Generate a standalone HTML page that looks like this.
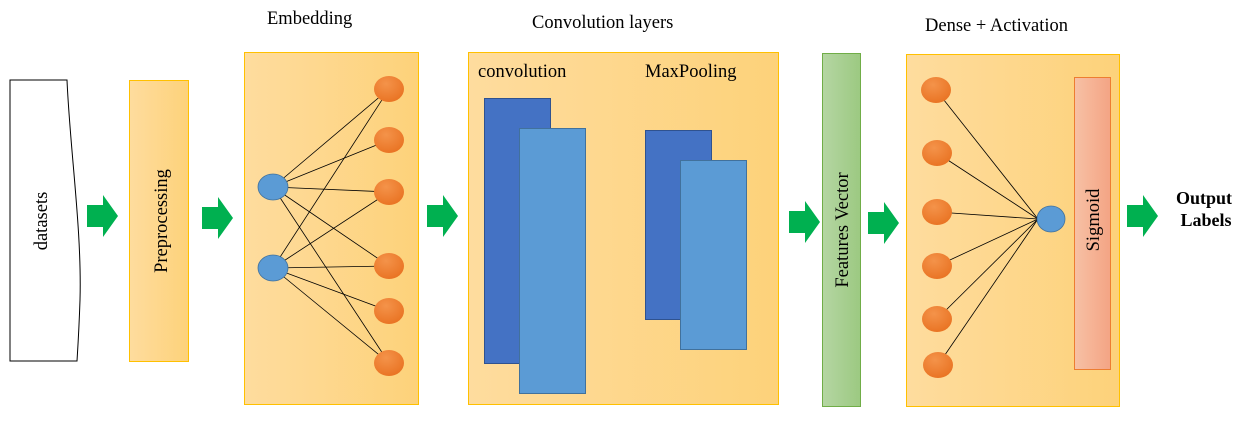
<!DOCTYPE html>
<html><head><meta charset="utf-8"><style>
html,body{margin:0;padding:0;background:#fff;width:1256px;height:424px;overflow:hidden}
text{font-family:"Liberation Serif",serif;fill:#000}
</style></head><body>
<svg width="1256" height="424" viewBox="0 0 1256 424" xmlns="http://www.w3.org/2000/svg">
<defs>
<linearGradient id="yg" x1="0" x2="1" y1="0" y2="0"><stop offset="0" stop-color="#fedc9e"/><stop offset="1" stop-color="#fdd27a"/></linearGradient>
<linearGradient id="gg" x1="0" x2="1"><stop offset="0" stop-color="#b5d6a3"/><stop offset="1" stop-color="#9cc981"/></linearGradient>
<linearGradient id="sg" x1="0" x2="1"><stop offset="0" stop-color="#f7c1a5"/><stop offset="1" stop-color="#f4a484"/></linearGradient>
<radialGradient id="og" cx="0.4" cy="0.3" r="0.8"><stop offset="0" stop-color="#f4934a"/><stop offset="1" stop-color="#e8701f"/></radialGradient>
<g id="arr"><polygon points="0,-11 16,-11 16,-21 31,0 16,21 16,11 0,11" fill="#00b050"/></g>
</defs>
<path d="M10,80 L67,80 C70,150 82,230 80,300 C79,330 78,345 77,361 L10,361 Z" fill="#fff" stroke="#000" stroke-width="1"/>
<text transform="translate(47,221) rotate(-90)" text-anchor="middle" font-size="18.5">datasets</text>
<use href="#arr" x="87" y="216"/>
<rect x="129.5" y="80.5" width="59" height="281" fill="url(#yg)" stroke="#ffc000"/>
<text transform="translate(167,221) rotate(-90)" text-anchor="middle" font-size="18.5">Preprocessing</text>
<use href="#arr" x="202" y="218"/>
<text x="267" y="24" font-size="18.5">Embedding</text>
<rect x="244.5" y="52.5" width="174" height="352" fill="url(#yg)" stroke="#ffc000"/>
<g stroke="#000" stroke-width="0.8">
<line x1="273" y1="187" x2="389" y2="89"/><line x1="273" y1="187" x2="389" y2="140"/><line x1="273" y1="187" x2="389" y2="192"/><line x1="273" y1="187" x2="389" y2="266"/><line x1="273" y1="187" x2="389" y2="363"/>
<line x1="273" y1="268" x2="389" y2="89"/><line x1="273" y1="268" x2="389" y2="192"/><line x1="273" y1="268" x2="389" y2="266"/><line x1="273" y1="268" x2="389" y2="311"/><line x1="273" y1="268" x2="389" y2="363"/>
</g>
<g fill="#5b9bd5" stroke="#41719c" stroke-width="0.8"><ellipse cx="273" cy="187" rx="15" ry="13"/><ellipse cx="273" cy="268" rx="15" ry="13"/></g>
<g fill="url(#og)"><ellipse cx="389" cy="89" rx="15" ry="13"/><ellipse cx="389" cy="140" rx="15" ry="13"/><ellipse cx="389" cy="192" rx="15" ry="13"/><ellipse cx="389" cy="266" rx="15" ry="13"/><ellipse cx="389" cy="311" rx="15" ry="13"/><ellipse cx="389" cy="363" rx="15" ry="13"/></g>
<use href="#arr" x="427" y="216"/>
<text x="532" y="28" font-size="18.5">Convolution layers</text>
<rect x="468.5" y="52.5" width="310" height="352" fill="url(#yg)" stroke="#ffc000"/>
<text x="478" y="77" font-size="18.5">convolution</text>
<text x="645" y="77" font-size="18.5">MaxPooling</text>
<rect x="484.5" y="98.5" width="66" height="265" fill="#4472c4" stroke="#2f528f"/>
<rect x="519.5" y="128.5" width="66" height="265" fill="#5b9bd5" stroke="#41719c"/>
<rect x="645.5" y="130.5" width="66" height="189" fill="#4472c4" stroke="#2f528f"/>
<rect x="680.5" y="160.5" width="66" height="189" fill="#5b9bd5" stroke="#41719c"/>
<use href="#arr" x="789" y="222"/>
<rect x="822.5" y="53.5" width="38" height="353" fill="url(#gg)" stroke="#70ad47"/>
<text transform="translate(848,230) rotate(-90)" text-anchor="middle" font-size="18.5">Features Vector</text>
<use href="#arr" x="868" y="223"/>
<text x="925" y="31" font-size="18.5">Dense + Activation</text>
<rect x="906.5" y="54.5" width="213" height="352" fill="url(#yg)" stroke="#ffc000"/>
<rect x="1074.5" y="77.5" width="36" height="292" fill="url(#sg)" stroke="#ed7d31"/>
<text transform="translate(1099,220) rotate(-90)" text-anchor="middle" font-size="18.5">Sigmoid</text>
<g stroke="#000" stroke-width="0.8">
<line x1="936" y1="90" x2="1038" y2="219"/><line x1="937" y1="153" x2="1038" y2="219"/><line x1="937" y1="212" x2="1038" y2="219"/><line x1="937" y1="266" x2="1038" y2="219"/><line x1="937" y1="319" x2="1038" y2="219"/><line x1="938" y1="365" x2="1038" y2="219"/>
</g>
<g fill="url(#og)"><ellipse cx="936" cy="90" rx="15" ry="13"/><ellipse cx="937" cy="153" rx="15" ry="13"/><ellipse cx="937" cy="212" rx="15" ry="13"/><ellipse cx="937" cy="266" rx="15" ry="13"/><ellipse cx="937" cy="319" rx="15" ry="13"/><ellipse cx="938" cy="365" rx="15" ry="13"/></g>
<ellipse cx="1051" cy="219" rx="14" ry="13" fill="#5b9bd5" stroke="#41719c" stroke-width="0.8"/>
<use href="#arr" x="1127" y="216"/>
<text x="1204" y="204" font-size="18" font-weight="bold" text-anchor="middle">Output</text>
<text x="1206" y="226" font-size="18" font-weight="bold" text-anchor="middle">Labels</text>
</svg>
</body></html>
